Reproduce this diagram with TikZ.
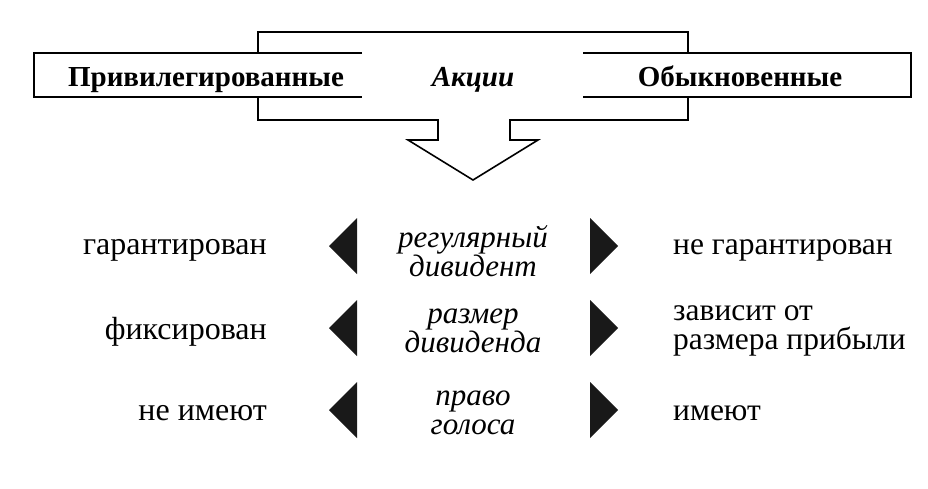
\documentclass[tikz,border=0pt]{standalone}
\usepackage{fontspec}
\setmainfont{Liberation Serif}
\begin{document}
\begin{tikzpicture}[x=1pt,y=-1pt,
  outl/.style={line width=1.6pt, line join=miter},
  tri/.style={fill=black!90},
  hdr/.style={font=\fontsize{29}{30}\selectfont\bfseries, inner sep=0pt, anchor=base},
  hdri/.style={font=\fontsize{29}{30}\selectfont\bfseries\itshape, inner sep=0pt, anchor=base},
  mid/.style={font=\fontsize{31}{29}\selectfont\itshape, align=center, inner sep=0pt},
  lft/.style={font=\fontsize{32}{29}\selectfont, anchor=east, inner sep=0pt},
  rgt/.style={font=\fontsize{31.5}{29}\selectfont, anchor=west, align=left, inner sep=0pt}]
\useasboundingbox (0,0) rectangle (928,488);
% header frame
\draw[outl] (362,53) -- (34,53) -- (34,97) -- (362,97);
\draw[outl] (583,53) -- (911,53) -- (911,97) -- (583,97);
\draw[outl] (258,53) -- (258,32) -- (688,32) -- (688,53);
\draw[outl] (258,97) -- (258,120) -- (438,120) -- (438,140) -- (408,140)
  -- (473,180) -- (538,140) -- (510,140) -- (510,120) -- (688,120) -- (688,97);
\node[hdr] (pref) at (206,86) {Привилегированные};
\node[hdri] (akc) at (473,86) {Акции};
\node[hdr] (ord) at (740,86) {Обыкновенные};
% triangles
\foreach \yy in {246,328,410} {
  \fill[tri] (329,\yy) -- (357,\yy-28) -- (357,\yy+28) -- cycle;
  \fill[tri] (618,\yy) -- (590,\yy-28) -- (590,\yy+28) -- cycle;
}
% middle column
\node[mid] (m1) at (473,251) {регулярный\\дивидент};
\node[mid] (m2) at (473,331) {размер\\дивиденда};
\node[mid] (m3) at (473,413) {право\\голоса};
% left column
\node[lft] (l1) at (267,250) {гарантирован};
\node[lft] (l2) at (267,332) {фиксирован};
\node[lft] (l3) at (267,413) {не имеют};
% right column
\node[rgt] (r1) at (673,250) {не гарантирован};
\node[rgt] (r2) at (673,331) {зависит от\\размера прибыли};
\node[rgt] (r3) at (673,413) {имеют};
\end{tikzpicture}
\end{document}
